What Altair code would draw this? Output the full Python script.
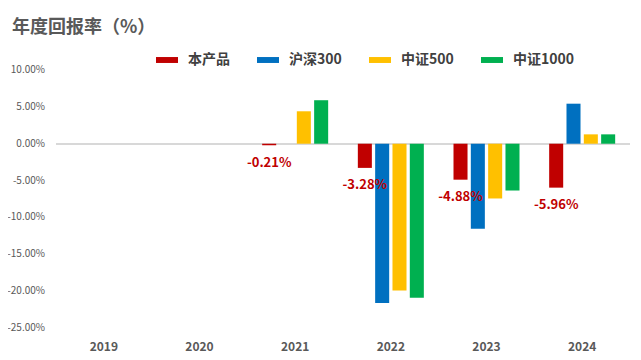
import altair as alt
import pandas as pd

years = ["2019", "2020", "2021", "2022", "2023", "2024"]
series = ["本产品", "沪深300", "中证500", "中证1000"]
product = [None, None, -0.21, -3.28, -4.88, -5.96]
hs300 = [None, None, None, -21.6, -11.55, 5.43]
zz500 = [None, None, 4.4, -19.9, -7.43, 1.27]
zz1000 = [None, None, 5.9, -20.9, -6.35, 1.27]
colors = ["#c00000", "#0070c0", "#ffc000", "#00b050"]
y_ticks = [-25, -20, -15, -10, -5, 0, 5, 10]

rows = []
for name, vals in zip(series, [product, hs300, zz500, zz1000]):
    for yr, v in zip(years, vals):
        if v is not None:
            rows.append({"year": yr, "series": name, "value": v})
df = pd.DataFrame(rows)
ticks_df = pd.DataFrame({"value": y_ticks})

FONT = "Noto Sans CJK SC"
PCT = "(datum.value < 0 ? '-' : '') + format(abs(datum.value), '.2f') + '%'"

x_enc = alt.X("year:N", sort=years,
              scale=alt.Scale(domain=years, paddingInner=0.31, paddingOuter=0.155),
              axis=alt.Axis(title=None, labelAngle=0, labelFontWeight="bold", labelFontSize=12,
                            labelColor="#595959", labelFont=FONT, ticks=False,
                            domain=False, grid=False, labelPadding=13, labelBaseline="top"))
xo_enc = alt.XOffset("series:N", sort=series,
                     scale=alt.Scale(domain=series, paddingInner=0.19, paddingOuter=0))
y_enc = alt.Y("value:Q",
              scale=alt.Scale(domain=[-25, 10], nice=False, zero=False),
              axis=alt.Axis(title=None, values=y_ticks, domain=False, ticks=False, grid=False,
                            labels=False))

bars = alt.Chart(df).mark_bar().encode(
    x=x_enc,
    xOffset=xo_enc,
    y=y_enc,
    color=alt.Color("series:N", sort=series,
                    scale=alt.Scale(domain=series, range=colors),
                    legend=alt.Legend(title=None, orient="none", direction="horizontal",
                                      legendX=100, legendY=-21,
                                      symbolType="M-1,-0.27H1V0.27H-1Z", symbolSize=484,
                                      symbolStrokeWidth=0, labelFont=FONT, labelFontSize=14,
                                      labelFontWeight="bold", labelColor="#404040",
                                      labelOffset=10, columnPadding=27)),
)

zero = alt.Chart(df).mark_rule(color="#d9d9d9", strokeWidth=1).encode(
    y=alt.datum(0)
)

# y tick labels drawn through the shared y scale
ylabels = alt.Chart(ticks_df).transform_calculate(
    txt=PCT
).mark_text(align="right", baseline="middle", fontSize=10, color="#595959",
            font=FONT, dx=-11).encode(
    x=alt.value(0),
    y=alt.Y("value:Q"),
    text="txt:N",
)

labels = alt.Chart(df).transform_filter(
    alt.datum.series == "本产品"
).transform_calculate(
    label=PCT
).mark_text(dy=17.5, baseline="middle", align="center", fontWeight="bold", fontSize=13,
            color="#c00000", font=FONT).encode(
    x=alt.X("year:N", sort=years),
    xOffset=alt.XOffset("series:N", sort=series),
    y=alt.Y("value:Q"),
    text="label:N",
)

chart = alt.layer(zero, bars, labels, ylabels).properties(
    width=574, height=258,
    background="white",
    autosize=alt.AutoSizeParams(type="none"),
    padding={"left": 48, "top": 62, "right": 3, "bottom": 24},
    title=alt.TitleParams("年度回报率（%）", anchor="start", frame="group", dx=-44, dy=-8,
                          font=FONT, fontSize=18, fontWeight="bold", color="#595959"),
).configure_view(stroke=None, strokeWidth=0)

chart.save("out.html", embed_options={"renderer": "svg", "actions": False})
